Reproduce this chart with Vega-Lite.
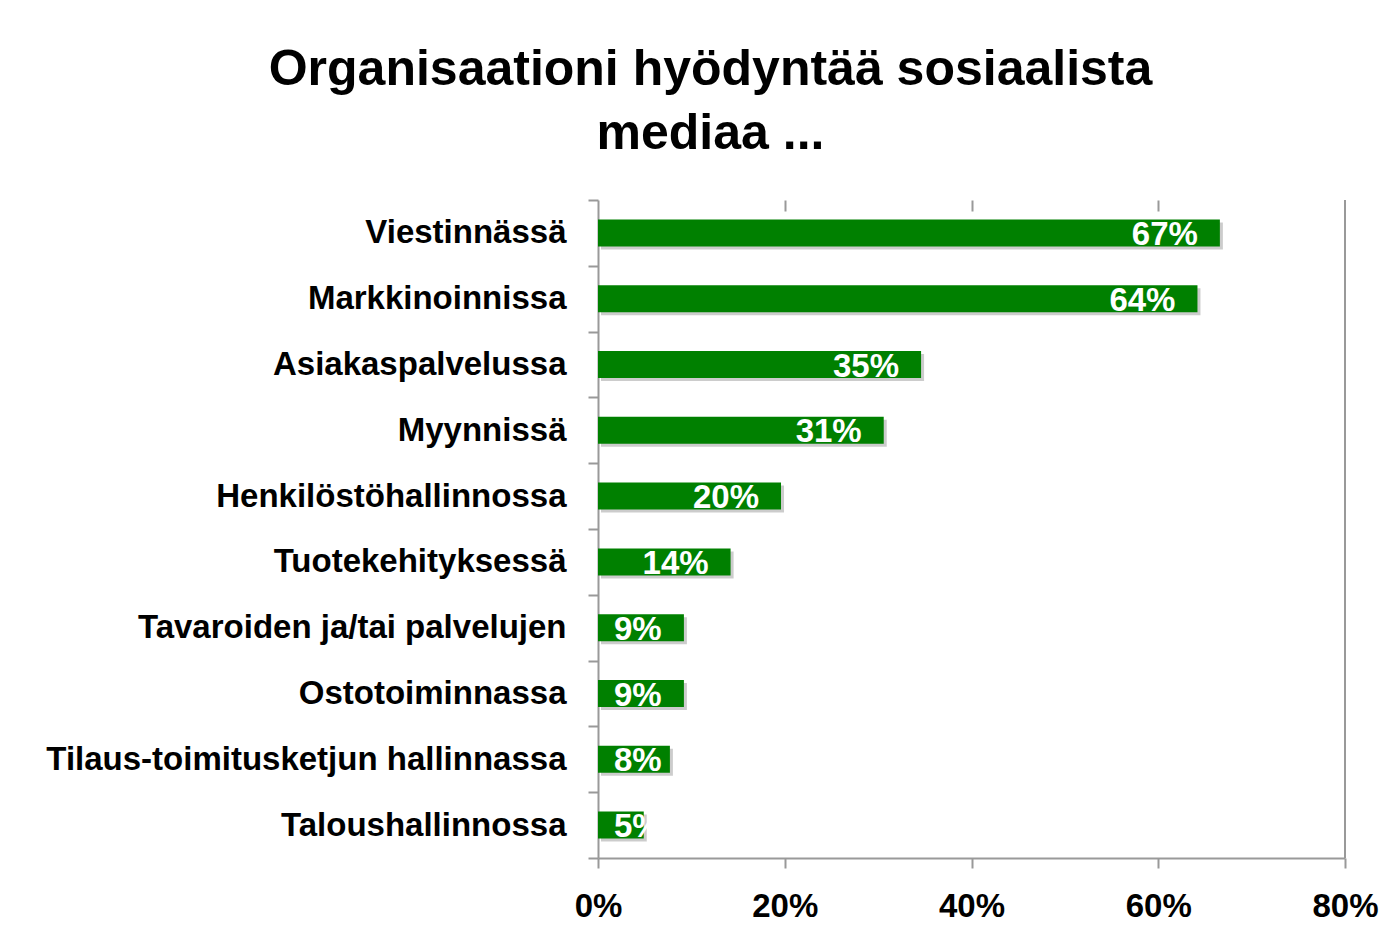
{
  "$schema": "https://vega.github.io/schema/vega-lite/v6.json",
  "width": 747,
  "height": 658,
  "autosize": {"type": "none"},
  "padding": {"left": 598, "top": 200, "right": 41, "bottom": 78},
  "background": "white",
  "title": {
    "text": ["Organisaationi hyödyntää sosiaalista", "mediaa ..."],
    "font": "Liberation Sans",
    "fontSize": 50,
    "fontWeight": "bold",
    "color": "black",
    "lineHeight": 64,
    "anchor": "middle",
    "frame": "group",
    "dx": -261,
    "offset": 25
  },
  "config": {
    "font": "Liberation Sans",
    "view": {"stroke": null},
    "axisY": {
      "title": null, "tickBand": "extent", "tickSize": 10, "tickColor": "#999999", "tickWidth": 2,
      "domainColor": "#999999", "domainWidth": 2, "labelFontSize": 33, "labelFontWeight": "bold",
      "labelColor": "black", "labelPadding": 22, "labelLimit": 800
    }
  },
  "data": {
    "values": [
      {"category": "Viestinnässä", "value": 0.666},
      {"category": "Markkinoinnissa", "value": 0.642},
      {"category": "Asiakaspalvelussa", "value": 0.346},
      {"category": "Myynnissä", "value": 0.306},
      {"category": "Henkilöstöhallinnossa", "value": 0.196},
      {"category": "Tuotekehityksessä", "value": 0.142},
      {"category": "Tavaroiden ja/tai palvelujen", "value": 0.092},
      {"category": "Ostotoiminnassa", "value": 0.092},
      {"category": "Tilaus-toimitusketjun hallinnassa", "value": 0.077},
      {"category": "Taloushallinnossa", "value": 0.049}
    ]
  },
  "layer": [
    {
      "mark": {"type": "bar", "size": 27, "color": "#555555", "opacity": 0.3, "xOffset": 3, "yOffset": 3},
      "encoding": {
        "y": {"field": "category", "type": "nominal", "sort": null, "scale": {"paddingInner": 0, "paddingOuter": 0}},
        "x": {
          "field": "value", "type": "quantitative",
          "scale": {"domain": [0, 0.8], "nice": false},
          "axis": {
            "title": null, "format": ".0%", "values": [0, 0.2, 0.4, 0.6, 0.8], "grid": false,
            "tickSize": 10, "tickColor": "#999999", "tickWidth": 2, "domainColor": "#999999", "domainWidth": 2,
            "labelFontSize": 33, "labelFontWeight": "bold", "labelColor": "black", "labelPadding": 22,
            "labelFlush": false
          }
        }
      }
    },
    {
      "mark": {"type": "bar", "size": 27, "color": "#008000"},
      "encoding": {
        "y": {"field": "category", "type": "nominal", "sort": null},
        "x": {"field": "value", "type": "quantitative", "axis": null}
      }
    },
    {
      "transform": [{"filter": "datum.value >= 0.1"}],
      "mark": {"type": "text", "align": "right", "baseline": "middle", "dx": -22, "dy": 2, "color": "white", "fontSize": 33, "fontWeight": "bold"},
      "encoding": {
        "y": {"field": "category", "type": "nominal", "sort": null},
        "x": {"field": "value", "type": "quantitative", "axis": null},
        "text": {"field": "value", "type": "quantitative", "format": ".0%"}
      }
    },
    {
      "transform": [{"filter": "datum.value < 0.1"}],
      "mark": {"type": "text", "align": "left", "baseline": "middle", "dx": 16, "dy": 2, "color": "white", "fontSize": 33, "fontWeight": "bold"},
      "encoding": {
        "y": {"field": "category", "type": "nominal", "sort": null},
        "x": {"datum": 0, "type": "quantitative", "axis": null},
        "text": {"field": "value", "type": "quantitative", "format": ".0%"}
      }
    },
    {
      "data": {"values": [{"limit": 0.8}]},
      "mark": {"type": "rule", "color": "#999999", "strokeWidth": 2},
      "encoding": {
        "x": {
          "field": "limit", "type": "quantitative",
          "axis": {"orient": "top", "labels": false, "domain": false, "title": null, "grid": false,
                   "values": [0.2, 0.4, 0.6], "tickSize": -11, "tickColor": "#999999", "tickWidth": 2}
        }
      }
    }
  ],
  "resolve": {"axis": {"x": "independent"}}
}
